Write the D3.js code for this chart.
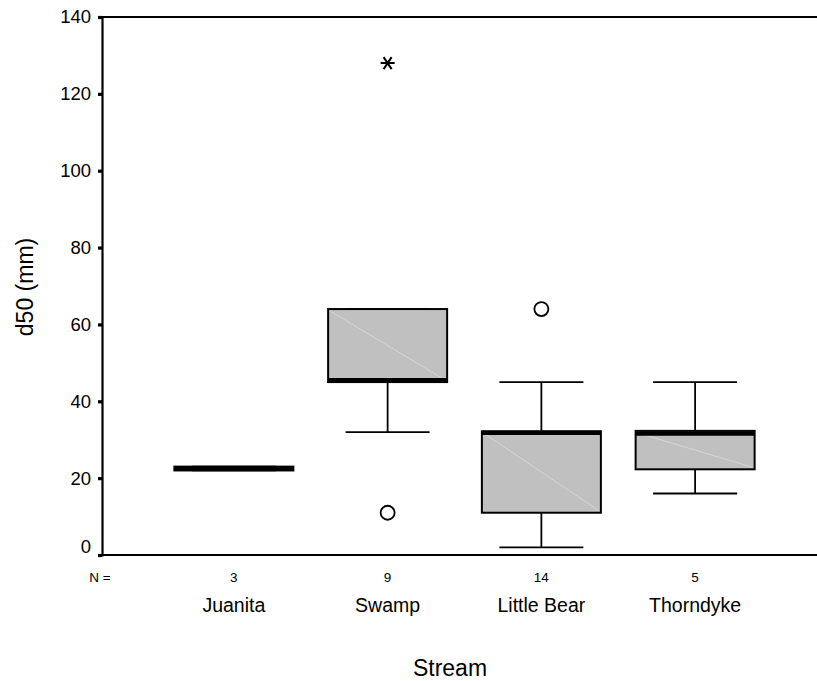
<!DOCTYPE html>
<html>
<head>
<meta charset="utf-8">
<script src="https://cdn.jsdelivr.net/npm/d3@7"></script>
<style>
  html, body { margin: 0; padding: 0; background: #fff; }
  svg { display: block; font-family: "Liberation Sans", Arial, sans-serif; }
</style>
</head>
<body>
<svg id="chart" width="817" height="681"></svg>
<script>
// Sediment median grain size (d50) by stream
const categories   = ["Juanita", "Swamp", "Little Bear", "Thorndyke"];
const counts       = [3, 9, 14, 5];
const whiskerLow   = [22, 32, 2, 16];
const q1           = [22, 45, 11, 22.3];
const medians      = [22.5, 45.5, 31.8, 31.6];
const q3           = [23, 64, 32.2, 32.3];
const whiskerHigh  = [23, 64, 45, 45];
// outliers (circles) and extremes (asterisks): [category, value]
const outliers     = [["Swamp", 11], ["Little Bear", 64]];
const extremes     = [["Swamp", 128]];
const yTicks       = [0, 20, 40, 60, 80, 100, 120, 140];

const svg = d3.select("#chart");
const plotLeft = 102, plotRight = 817, plotTop = 17, plotBottom = 555;

const x = d3.scaleBand().domain(categories).range([157, 772]);
const y = d3.scaleLinear().domain([0, 140]).range([plotBottom, plotTop]);

const boxW = 119, capW = 84;
const cx = c => x(c) + x.bandwidth() / 2;

const rows = categories.map((c, i) => ({
  c, n: counts[i], lo: whiskerLow[i], q1: q1[i], med: medians[i], q3: q3[i], hi: whiskerHigh[i]
}));

const g = svg.append("g");

// whiskers
rows.forEach(d => {
  const xc = cx(d.c);
  g.append("line").attr("x1", xc).attr("x2", xc).attr("y1", y(d.hi)).attr("y2", y(d.q3))
    .attr("stroke", "#000").attr("stroke-width", 1.8);
  g.append("line").attr("x1", xc).attr("x2", xc).attr("y1", y(d.q1)).attr("y2", y(d.lo))
    .attr("stroke", "#000").attr("stroke-width", 1.8);
  g.append("line").attr("x1", xc - capW / 2).attr("x2", xc + capW / 2).attr("y1", y(d.hi)).attr("y2", y(d.hi))
    .attr("stroke", "#000").attr("stroke-width", 1.8);
  g.append("line").attr("x1", xc - capW / 2).attr("x2", xc + capW / 2).attr("y1", y(d.lo)).attr("y2", y(d.lo))
    .attr("stroke", "#000").attr("stroke-width", 1.8);
});

// boxes
rows.forEach(d => {
  const xc = cx(d.c);
  const x0 = xc - boxW / 2, y0 = y(d.q3), h = y(d.q1) - y(d.q3);
  g.append("rect").attr("x", x0).attr("y", y0).attr("width", boxW).attr("height", h)
    .attr("fill", "#c0c0c0").attr("stroke", "#000").attr("stroke-width", 2);
  if (h > 6) {
    g.append("line").attr("x1", x0 + 2).attr("y1", y0 + 2).attr("x2", x0 + boxW - 2).attr("y2", y0 + h - 2)
      .attr("stroke", "#dcdcdc").attr("stroke-width", 0.8);
  }
  g.append("line").attr("x1", x0).attr("x2", x0 + boxW).attr("y1", y(d.med)).attr("y2", y(d.med))
    .attr("stroke", "#000").attr("stroke-width", 4.2);
});

// outliers
g.selectAll("circle.out").data(outliers).join("circle")
  .attr("cx", d => cx(d[0])).attr("cy", d => y(d[1])).attr("r", 7)
  .attr("fill", "#fff").attr("stroke", "#000").attr("stroke-width", 1.8);

// extremes: asterisk made of a horizontal bar and two diagonals
extremes.forEach(d => {
  const px = cx(d[0]), py = y(d[1]);
  const s = 7, dy = 6, dx = 4;
  g.append("path")
    .attr("d", `M${px - s},${py}H${px + s}M${px - dx},${py - dy}L${px + dx},${py + dy}M${px + dx},${py - dy}L${px - dx},${py + dy}`)
    .attr("stroke", "#000").attr("stroke-width", 2).attr("fill", "none");
});

// frame: top line and bottom axis line
svg.append("line").attr("x1", plotLeft).attr("x2", plotRight).attr("y1", plotTop).attr("y2", plotTop)
  .attr("stroke", "#000").attr("stroke-width", 2);
svg.append("line").attr("x1", plotLeft).attr("x2", plotRight).attr("y1", plotBottom).attr("y2", plotBottom)
  .attr("stroke", "#000").attr("stroke-width", 2);

const yAxis = svg.append("g").attr("transform", `translate(${plotLeft},0)`)
  .call(d3.axisLeft(y).tickValues(yTicks).tickSize(4).tickPadding(7).tickFormat(d3.format("d")));
yAxis.select(".domain").attr("stroke", "#000").attr("stroke-width", 2.2);
yAxis.selectAll(".tick line").attr("stroke", "#000").attr("stroke-width", 3.2);
yAxis.selectAll(".tick text").attr("font-size", 18.5).attr("fill", "#000")
  .attr("font-family", "Liberation Sans, Arial, sans-serif")
  .attr("dy", d => d === 0 ? "-0.15em" : "0.32em");

// N counts under the axis
svg.append("text").attr("x", 100).attr("y", 582).attr("text-anchor", "middle")
  .attr("font-size", 13.5).text("N =");
svg.selectAll("text.n").data(rows).join("text").attr("class", "n")
  .attr("x", d => cx(d.c)).attr("y", 582).attr("text-anchor", "middle")
  .attr("font-size", 13.5).text(d => d.n);

// category labels
svg.selectAll("text.cat").data(categories).join("text").attr("class", "cat")
  .attr("x", d => cx(d)).attr("y", 612).attr("text-anchor", "middle")
  .attr("font-size", 19.5).text(d => d);

// axis titles
svg.append("text").attr("x", 450).attr("y", 676).attr("text-anchor", "middle")
  .attr("font-size", 23).text("Stream");
svg.append("text").attr("transform", "translate(33,287) rotate(-90)").attr("text-anchor", "middle")
  .attr("font-size", 23).text("d50 (mm)");
</script>
</body>
</html>
